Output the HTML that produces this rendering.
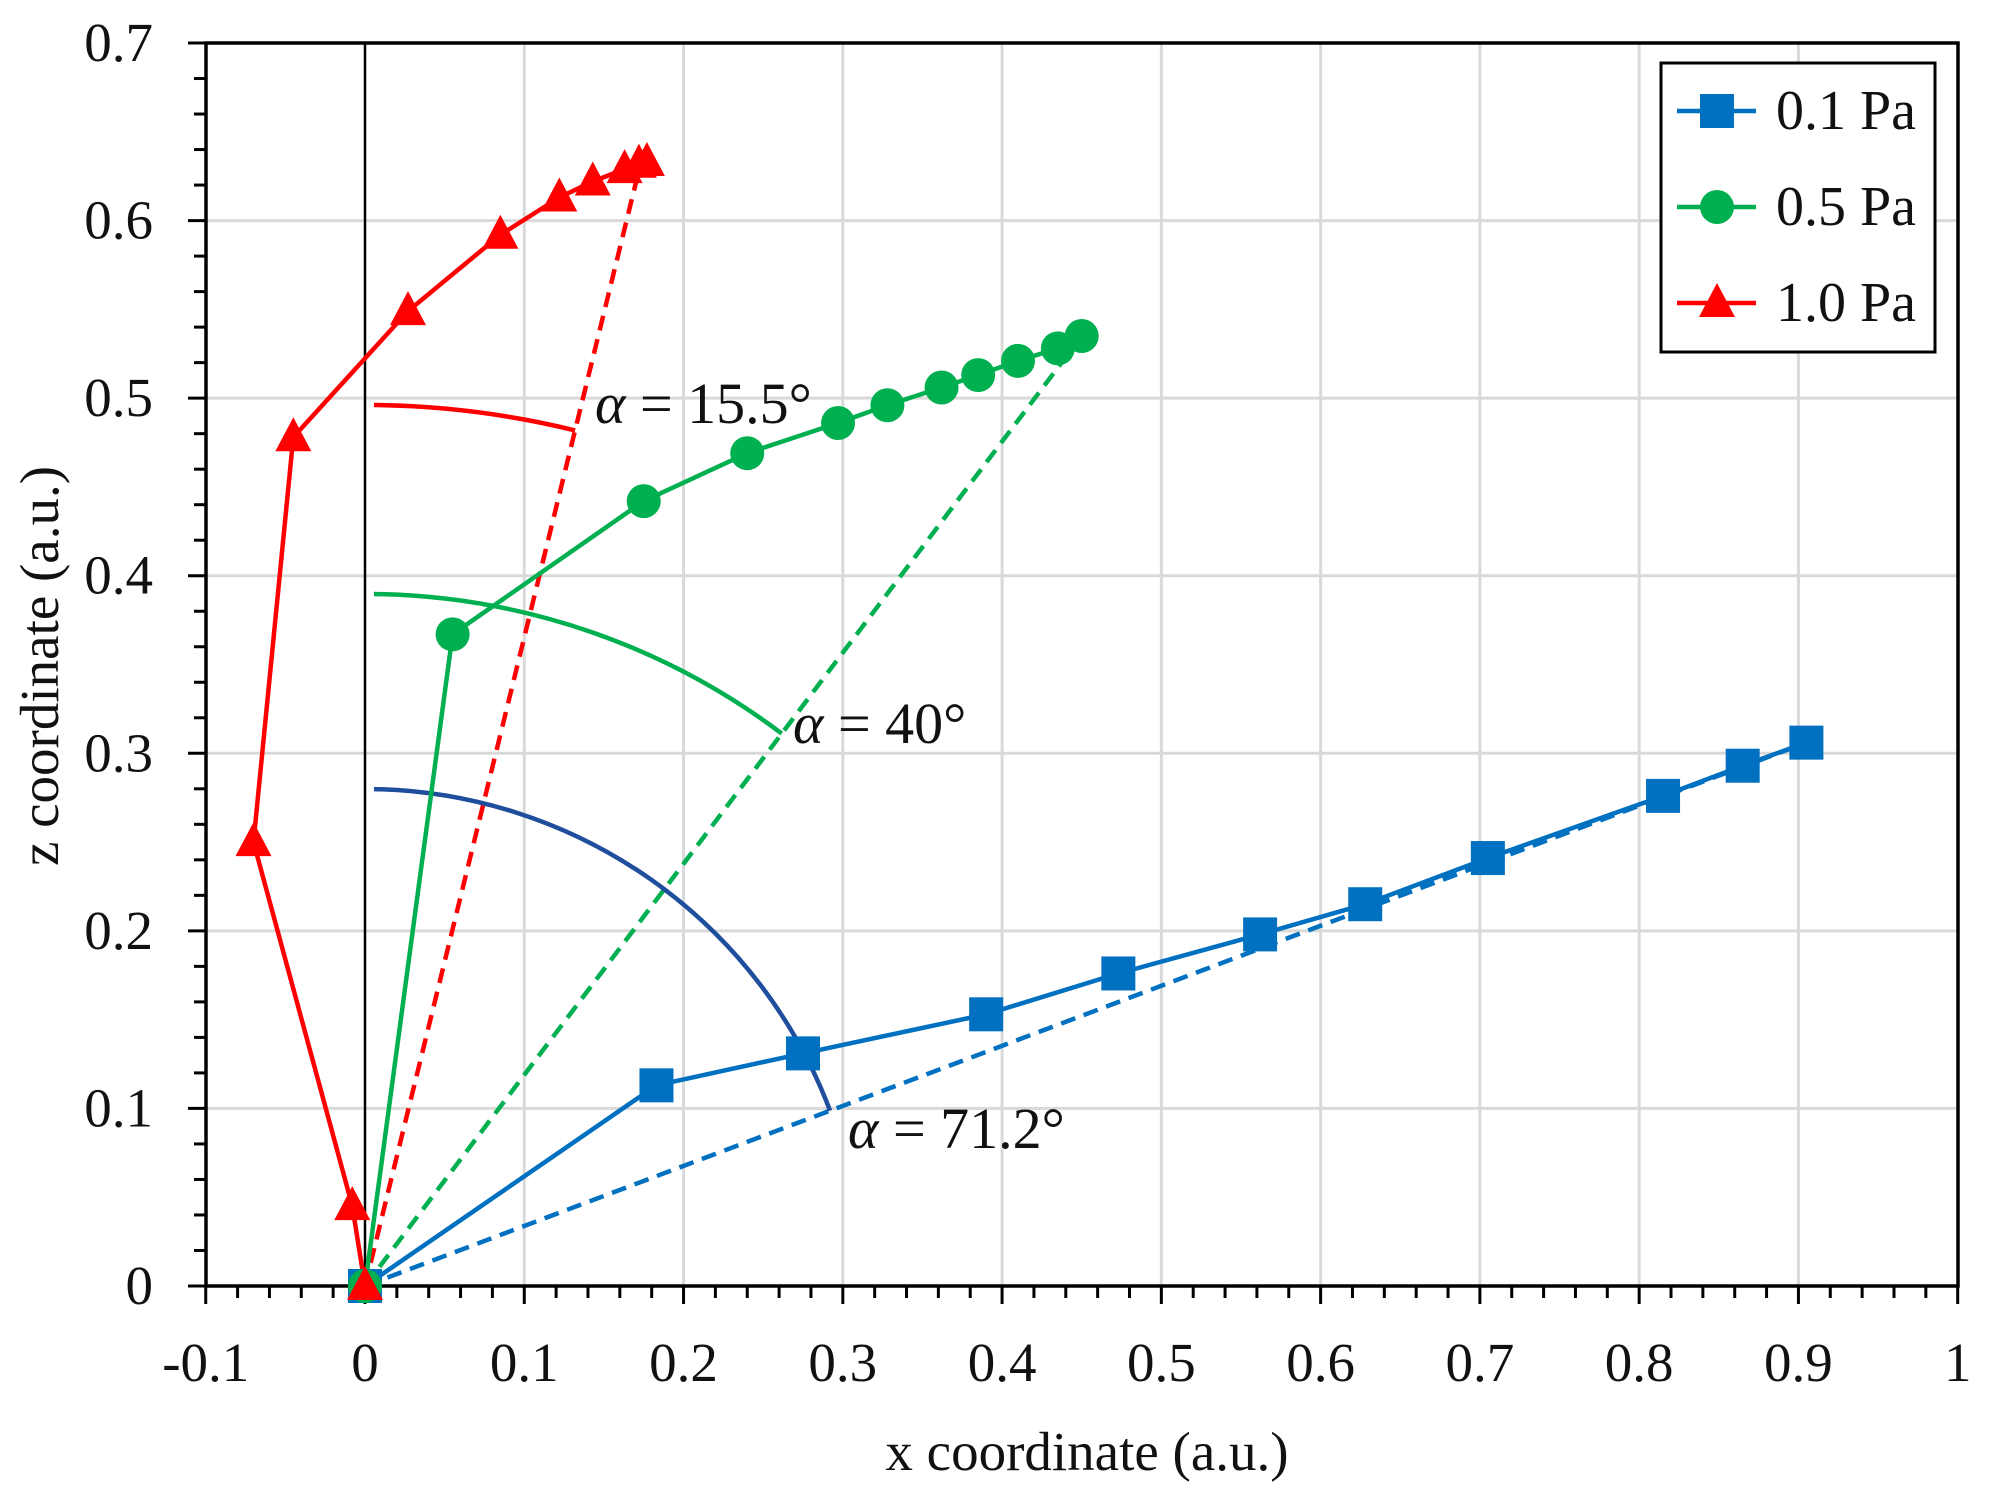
<!DOCTYPE html>
<html><head><meta charset="utf-8"><style>
html,body{margin:0;padding:0;background:#fff;}
svg{display:block;}
text{font-family:"Liberation Serif",serif;fill:#111;}
</style></head><body>
<svg id="s" width="1990" height="1506" viewBox="0 0 1990 1506" xmlns="http://www.w3.org/2000/svg"></svg>
<script>
const L=206,R=1958,T=43,B=1286,X0=365,SX=1592.7,SY=1775.7;
const px=x=>X0+x*SX, py=y=>B-y*SY;
let h='';
for(let i=-1;i<=10;i++){const x=px(i/10);if(i>-1&&i<10&&i!==0)h+=`<line x1="${x}" y1="${T}" x2="${x}" y2="${B}" stroke="#d9d9d9" stroke-width="3"/>`;}
for(let j=1;j<7;j++){const y=py(j/10);h+=`<line x1="${L}" y1="${y}" x2="${R}" y2="${y}" stroke="#d9d9d9" stroke-width="3"/>`;}
h+=`<line x1="${px(0)}" y1="${T}" x2="${px(0)}" y2="${B}" stroke="#000" stroke-width="2.5"/>`;
for(let k=-5;k<=50;k++){const x=px(k/50);const maj=k%5===0;h+=`<line x1="${x}" y1="${B}" x2="${x}" y2="${B+(maj?18:12)}" stroke="#000" stroke-width="3"/>`;}
for(let k=0;k<=35;k++){const y=py(k/50);const maj=k%5===0;h+=`<line x1="${L}" y1="${y}" x2="${L-(maj?18:12)}" y2="${y}" stroke="#000" stroke-width="3"/>`;}
h+=`<rect x="${L}" y="${T}" width="${R-L}" height="${B-T}" fill="none" stroke="#000" stroke-width="3.5"/>`;
const xl=['-0.1','0','0.1','0.2','0.3','0.4','0.5','0.6','0.7','0.8','0.9','1'];
xl.forEach((t,i)=>{h+=`<text x="${px((i-1)/10)}" y="1381" font-size="55" text-anchor="middle">${t}</text>`;});
for(let j=0;j<=7;j++){h+=`<text x="153" y="${py(j/10)+18}" font-size="55" text-anchor="end">${j===0?'0':'0.'+j}</text>`;}
h+=`<text x="1087" y="1470" font-size="55" text-anchor="middle">x coordinate (a.u.)</text>`;
h+=`<text transform="translate(58,666) rotate(-90)" font-size="55" text-anchor="middle">z coordinate (a.u.)</text>`;
const blue=[[0,0],[0.183,0.113],[0.275,0.131],[0.39,0.153],[0.473,0.176],[0.562,0.198],[0.628,0.215],[0.705,0.241],[0.815,0.276],[0.865,0.293],[0.905,0.306]];
const green=[[0,0],[0.055,0.367],[0.175,0.442],[0.24,0.469],[0.297,0.486],[0.328,0.496],[0.362,0.506],[0.385,0.513],[0.41,0.521],[0.435,0.528],[0.45,0.535]];
const red=[[0,0],[-0.008,0.045],[-0.07,0.25],[-0.045,0.478],[0.027,0.549],[0.085,0.592],[0.122,0.613],[0.143,0.622],[0.163,0.629],[0.172,0.632],[0.177,0.633]];
const CB='#0070c0',CG='#00b050',CR='#ff0000';
const pl=d=>d.map(p=>px(p[0]).toFixed(1)+','+py(p[1]).toFixed(1)).join(' ');
function dashed(end,c){h+=`<line x1="${px(0)}" y1="${py(0)}" x2="${px(end[0])}" y2="${py(end[1])}" stroke="${c}" stroke-width="4.5" stroke-dasharray="15,9"/>`;}
function arc(r,end,c,sx){const ex=px(end[0])-X0,ey=B-py(end[1]);const n=Math.hypot(ex,ey);const x2=X0+ex/n*r,y2=B-ey/n*r;
 h+=`<path d="M${X0+sx},${B-Math.sqrt(r*r-sx*sx)} A${r},${r} 0 0 1 ${x2},${y2}" fill="none" stroke="${c}" stroke-width="4.5"/>`;}
dashed(blue[10],CB);dashed(green[10],CG);dashed([0.173,0.632],CR);
arc(881,[0.173,0.632],CR,9);arc(692,green[10],CG,9);arc(497,blue[10],'#1f4e9c',9);
h+=`<polyline points="${pl(blue)}" fill="none" stroke="${CB}" stroke-width="4.5"/>`;
h+=`<polyline points="${pl(green)}" fill="none" stroke="${CG}" stroke-width="4.5"/>`;
h+=`<polyline points="${pl(red)}" fill="none" stroke="${CR}" stroke-width="4.5"/>`;
const sq=(x,y)=>`<rect x="${x-17}" y="${y-17}" width="34" height="34" fill="${CB}"/>`;
const ci=(x,y)=>`<circle cx="${x}" cy="${y}" r="17" fill="${CG}"/>`;
const tr=(x,y)=>`<polygon points="${x},${y-20} ${x-18},${y+14} ${x+18},${y+14}" fill="${CR}"/>`;
blue.forEach(p=>h+=sq(px(p[0]),py(p[1])));
green.forEach(p=>h+=ci(px(p[0]),py(p[1])));
red.forEach(p=>h+=tr(px(p[0]),py(p[1])));
h+=`<text x="595" y="423" font-size="58"><tspan font-style="italic">α</tspan> = 15.5°</text>`;
h+=`<text x="793" y="743" font-size="58"><tspan font-style="italic">α</tspan> = 40°</text>`;
h+=`<text x="848" y="1148" font-size="58"><tspan font-style="italic">α</tspan> = 71.2°</text>`;
h+=`<rect x="1661" y="63" width="274" height="289" fill="#fff" stroke="#000" stroke-width="3"/>`;
const ly=[111,207,303],cols=[CB,CG,CR],labs=['0.1 Pa','0.5 Pa','1.0 Pa'],mk=[sq,ci,tr];
for(let i=0;i<3;i++){h+=`<line x1="1677" y1="${ly[i]}" x2="1756" y2="${ly[i]}" stroke="${cols[i]}" stroke-width="4.5"/>`;h+=mk[i](1717,ly[i]);
h+=`<text x="1776" y="${ly[i]+18}" font-size="56">${labs[i]}</text>`;}
document.getElementById('s').innerHTML=h;
</script>
</body></html>
